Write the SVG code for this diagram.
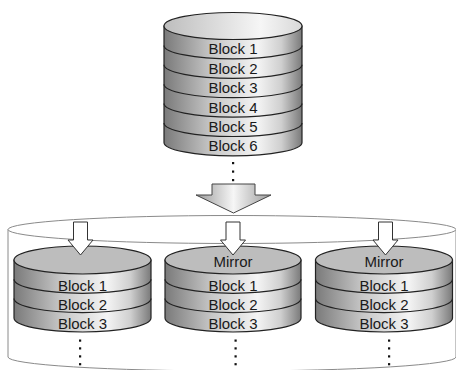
<svg xmlns="http://www.w3.org/2000/svg" width="456" height="370" viewBox="0 0 456 370">
<defs>
<linearGradient id="side" x1="0" y1="0" x2="1" y2="0">
<stop offset="0" stop-color="#7a7a7a"/>
<stop offset="0.35" stop-color="#c8c8c8"/>
<stop offset="0.68" stop-color="#f4f4f4"/>
<stop offset="0.85" stop-color="#cfcfcf"/>
<stop offset="1" stop-color="#7a7a7a"/>
</linearGradient>
<linearGradient id="topg" x1="0" y1="0" x2="1" y2="0">
<stop offset="0" stop-color="#bdbdbd"/>
<stop offset="0.7" stop-color="#f6f6f6"/>
<stop offset="1" stop-color="#d8d8d8"/>
</linearGradient>
<linearGradient id="arrowg" x1="0" y1="0" x2="1" y2="0">
<stop offset="0" stop-color="#9a9a9a"/>
<stop offset="0.5" stop-color="#f6f6f6"/>
<stop offset="1" stop-color="#9a9a9a"/>
</linearGradient>
</defs>
<style>
.body{fill:url(#side);stroke:#222;stroke-width:1.2}
.band{fill:none;stroke:#222;stroke-width:1.2}
.top1{fill:url(#topg);stroke:#222;stroke-width:1.2}
.top2{fill:#bdbdbd;stroke:#222;stroke-width:1.2}
.lbl{font-family:"Liberation Sans",Arial,sans-serif;font-size:15px;fill:#1a1a1a;text-anchor:middle}
.cont{fill:none;stroke:#8a8a8a;stroke-width:1}
.sarrow{fill:#fff;stroke:#333;stroke-width:1}
.dot{fill:#111}
</style>

<g id="container">
<ellipse class="cont" cx="232" cy="229.5" rx="224" ry="14"/>
<path class="cont" d="M8,229.5 V357 A224,14 0 0 0 456,357 V229.5"/>
</g>

<g id="source-disk">
<path class="body" d="M164,26 V142.4 A69,13.5 0 0 0 302,142.4 V26 Z"/>
<ellipse class="top1" cx="233" cy="26" rx="69" ry="13.5"/>
<path class="band" d="M164,45.4 A69,13.5 0 0 0 302,45.4"/>
<path class="band" d="M164,64.8 A69,13.5 0 0 0 302,64.8"/>
<path class="band" d="M164,84.2 A69,13.5 0 0 0 302,84.2"/>
<path class="band" d="M164,103.6 A69,13.5 0 0 0 302,103.6"/>
<path class="band" d="M164,123 A69,13.5 0 0 0 302,123"/>
<text class="lbl" x="233" y="54.4">Block 1</text>
<text class="lbl" x="233" y="73.8">Block 2</text>
<text class="lbl" x="233" y="93.2">Block 3</text>
<text class="lbl" x="233" y="112.6">Block 4</text>
<text class="lbl" x="233" y="132">Block 5</text>
<text class="lbl" x="233" y="151.4">Block 6</text>
<rect class="dot" x="232" y="162" width="2.2" height="2.2"/>
<rect class="dot" x="232" y="170.5" width="2.2" height="2.2"/>
<rect class="dot" x="232" y="179" width="2.2" height="2.2"/>
</g>

<g id="disk-1">
<path class="body" d="M14,260 V318 A68.5,14 0 0 0 151,318 V260 Z"/>
<ellipse class="top2" cx="82.5" cy="260" rx="68.5" ry="14"/>
<path class="band" d="M14,279.3 A68.5,14 0 0 0 151,279.3"/>
<path class="band" d="M14,298.6 A68.5,14 0 0 0 151,298.6"/>
<text class="lbl" x="82.5" y="290.5">Block 1</text>
<text class="lbl" x="82.5" y="310">Block 2</text>
<text class="lbl" x="82.5" y="329.3">Block 3</text>
<rect class="dot" x="79" y="339.5" width="2.2" height="2.2"/>
<rect class="dot" x="79" y="347.3" width="2.2" height="2.2"/>
<rect class="dot" x="79" y="355.3" width="2.2" height="2.2"/>
<rect class="dot" x="79" y="363.1" width="2.2" height="2.2"/>
</g>

<g id="disk-2">
<path class="body" d="M165,260 V318 A68,14 0 0 0 301,318 V260 Z"/>
<ellipse class="top2" cx="233" cy="260" rx="68" ry="14"/>
<path class="band" d="M165,279.3 A68,14 0 0 0 301,279.3"/>
<path class="band" d="M165,298.6 A68,14 0 0 0 301,298.6"/>
<text class="lbl" x="233" y="267">Mirror</text>
<text class="lbl" x="233" y="290.5">Block 1</text>
<text class="lbl" x="233" y="310">Block 2</text>
<text class="lbl" x="233" y="329.3">Block 3</text>
<rect class="dot" x="234.5" y="339.5" width="2.2" height="2.2"/>
<rect class="dot" x="234.5" y="347.3" width="2.2" height="2.2"/>
<rect class="dot" x="234.5" y="355.3" width="2.2" height="2.2"/>
<rect class="dot" x="234.5" y="363.1" width="2.2" height="2.2"/>
</g>

<g id="disk-3">
<path class="body" d="M315.5,260 V318 A68.5,14 0 0 0 452.5,318 V260 Z"/>
<ellipse class="top2" cx="384" cy="260" rx="68.5" ry="14"/>
<path class="band" d="M315.5,279.3 A68.5,14 0 0 0 452.5,279.3"/>
<path class="band" d="M315.5,298.6 A68.5,14 0 0 0 452.5,298.6"/>
<text class="lbl" x="384" y="267">Mirror</text>
<text class="lbl" x="384" y="290.5">Block 1</text>
<text class="lbl" x="384" y="310">Block 2</text>
<text class="lbl" x="384" y="329.3">Block 3</text>
<rect class="dot" x="388" y="339.5" width="2.2" height="2.2"/>
<rect class="dot" x="388" y="347.3" width="2.2" height="2.2"/>
<rect class="dot" x="388" y="355.3" width="2.2" height="2.2"/>
<rect class="dot" x="388" y="363.1" width="2.2" height="2.2"/>
</g>

<g id="connectors">
<path d="M212,184 H255 V195 H271 L233.5,213 L196,195 H212 Z" fill="url(#arrowg)" stroke="#444" stroke-width="1"/>
<path class="sarrow" d="M73.5,222 H87.5 V240 H93 L80.5,255 L68,240 H73.5 Z"/>
<path class="sarrow" d="M226,222 H240 V240 H245.5 L233,255 L220.5,240 H226 Z"/>
<path class="sarrow" d="M378.5,222 H392.5 V240 H398 L385.5,255 L373,240 H378.5 Z"/>
</g>
</svg>
